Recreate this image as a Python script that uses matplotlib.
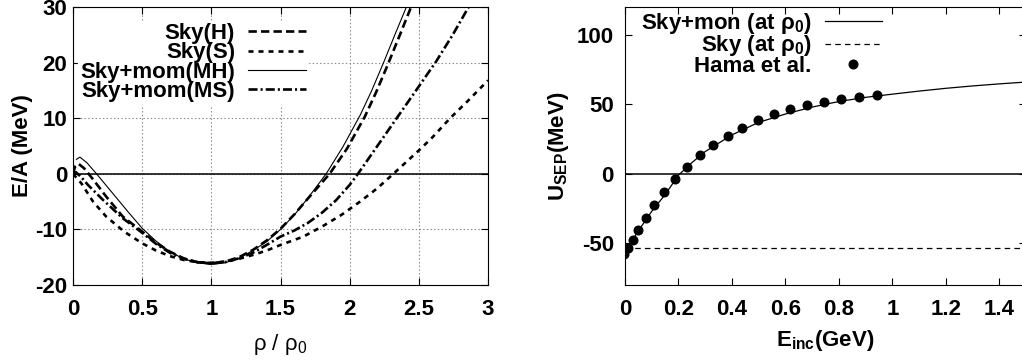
import numpy as np
import matplotlib
matplotlib.use('Agg')
import matplotlib.pyplot as plt
from matplotlib.ticker import MultipleLocator, FuncFormatter

plt.rcParams['font.family'] = ['Liberation Sans', 'DejaVu Sans']
plt.rcParams['mathtext.fontset'] = 'custom'
plt.rcParams['mathtext.rm'] = 'Liberation Sans:bold'
plt.rcParams['mathtext.bf'] = 'Liberation Sans:bold'
plt.rcParams['mathtext.it'] = 'Liberation Sans:bold'
plt.rcParams['mathtext.sf'] = 'Liberation Sans'
plt.rcParams['lines.scale_dashes'] = False

# --- left panel: E/A vs rho/rho0 ---
x_H = [0.0, 0.015, 0.04, 0.08, 0.145, 0.24, 0.36, 0.48, 0.6, 0.7, 0.8, 0.9, 1.0, 1.1, 1.2,
       1.3, 1.4, 1.5, 1.6, 1.7, 1.855, 1.98, 2.11, 2.19, 2.27, 2.36, 2.444]
y_H = [0.0, 1.3, 1.8, 1.0, -1.0, -4.1, -7.7, -10.0, -12.4, -14.0, -15.2, -15.9, -16.1, -15.8, -15.0,
       -13.7, -12.0, -9.9, -7.3, -4.4, 0.0, 4.5, 10.3, 14.6, 19.3, 24.8, 30.0]

x_S = [0.0, 0.06, 0.145, 0.24, 0.37, 0.5, 0.6, 0.7, 0.8, 0.9, 1.0, 1.1, 1.2, 1.3, 1.4,
       1.5, 1.665, 1.8, 1.94, 2.075, 2.2, 2.316, 2.5, 2.6, 2.726, 2.85, 3.0]
y_S = [0.0, -1.7, -5.0, -7.7, -10.4, -12.5, -13.8, -14.8, -15.5, -15.9, -16.0, -15.8, -15.3, -14.6, -13.8,
       -12.8, -11.3, -9.5, -7.4, -5.0, -2.6, 0.0, 4.2, 6.6, 10.0, 13.0, 16.8]

x_MH = [0.025, 0.05, 0.1, 0.17, 0.25, 0.31, 0.4, 0.5, 0.6, 0.7, 0.8, 0.9, 1.0, 1.1, 1.2,
        1.3, 1.4, 1.5, 1.6, 1.7, 1.83, 1.95, 2.075, 2.16, 2.245, 2.33, 2.41]
y_MH = [2.6, 3.0, 2.0, 0.0, -2.4, -4.2, -6.9, -9.8, -12.1, -14.0, -15.3, -16.0, -16.3, -16.0, -15.2,
        -13.8, -12.2, -10.0, -7.4, -4.3, 0.0, 4.8, 10.5, 15.0, 20.0, 25.2, 30.0]

x_MS = [0.0, 0.02, 0.06, 0.108, 0.217, 0.36, 0.5, 0.6, 0.7, 0.8, 0.9, 1.0, 1.1, 1.2, 1.3,
        1.4, 1.5, 1.6, 1.7, 1.8, 1.9, 2.0, 2.06, 2.2, 2.34, 2.48, 2.625, 2.745, 2.86]
y_MS = [0.0, 0.3, -0.6, -2.0, -4.7, -8.0, -10.6, -12.6, -14.2, -15.3, -15.9, -16.1, -15.9, -15.2, -14.2,
        -12.8, -11.3, -10.2, -8.8, -7.0, -4.8, -2.0, 0.0, 5.0, 10.0, 15.0, 20.2, 25.0, 30.0]

# --- right panel: U_SEP vs E_inc ---
E_mon = [0.0, 0.02, 0.05, 0.1, 0.15, 0.2, 0.25, 0.3, 0.4, 0.5, 0.6, 0.7, 0.8, 0.9, 1.0,
         1.1, 1.2, 1.3, 1.4, 1.5]
U_mon = [-57.0, -50.0, -41.0, -27.0, -15.0, -1.0, 8.0, 16.0, 28.0, 37.0, 43.0, 48.0, 52.0, 55.0, 57.3,
         59.5, 61.5, 63.2, 64.7, 66.0]
E_sky = [0.0, 1.5]
U_sky = [-53.2, -53.2]

E_hama = [-0.002, 0.01, 0.029, 0.050, 0.079, 0.110, 0.145, 0.186, 0.231, 0.279, 0.329,
          0.384, 0.438, 0.497, 0.557, 0.618, 0.680, 0.744, 0.809, 0.875, 0.943]
U_hama = [-58.0, -53.1, -47.4, -40.1, -31.7, -22.6, -13.2, -3.8, 5.0, 13.2, 20.7,
          27.4, 33.2, 38.5, 42.8, 46.4, 49.5, 51.9, 53.8, 55.5, 56.7]

fmt = FuncFormatter(lambda v, p: '%g' % v)
FS = 16

W, H = 1022, 362
fig = plt.figure(figsize=(W / 100, H / 100), dpi=100)
ax1 = fig.add_axes([73 / W, 1 - 285 / H, (488 - 73) / W, (285 - 7) / H])
ax2 = fig.add_axes([625 / W, 1 - 285 / H, (1026 - 625) / W, (285 - 7) / H])

for ax in (ax1, ax2):
    ax.tick_params(direction='in', top=True, right=True, length=5, width=0.8,
                   labelsize=FS)
    ax.xaxis.set_major_formatter(fmt)
    ax.yaxis.set_major_formatter(fmt)
    ax.axhline(0, color='black', lw=1.1, zorder=1)

# left
ax1.plot(x_H, y_H, color='black', lw=1.9, dashes=(6, 3), label='Sky(H)')
ax1.plot(x_S, y_S, color='black', lw=1.9, dashes=(3.6, 3.6), label='Sky(S)')
ax1.plot(x_MH, y_MH, color='black', lw=0.8, label='Sky+mom(MH)')
ax1.plot(x_MS, y_MS, color='black', lw=1.9, dashes=(6.5, 2.2, 1.5, 2.2), label='Sky+mom(MS)')
ax1.set_xlim(0, 3)
ax1.set_ylim(-20, 30)
ax1.xaxis.set_major_locator(MultipleLocator(0.5))
ax1.yaxis.set_major_locator(MultipleLocator(10))
ax1.grid(True, color='#888888', ls=':', lw=0.8)
ax1.set_axisbelow(True)
ax1.tick_params(axis='x', pad=10)
ax1.tick_params(axis='y', pad=4)
ax1.set_xlabel('ρ / ρ$_{\\mathsf{0}}$', fontsize=FS, labelpad=9)
ax1.set_ylabel('E/A (MeV)', fontsize=FS, fontweight='bold', labelpad=2)

leg1 = ax1.legend(loc='upper right', bbox_to_anchor=(0.594, 0.99), markerfirst=False,
                  handlelength=2.6, handletextpad=0.6, labelspacing=-0.08,
                  borderpad=0.1, fancybox=False, framealpha=1, facecolor='white',
                  edgecolor='white', prop={'weight': 'bold', 'size': FS})

# right
ax2.plot(E_mon, U_mon, color='black', lw=0.9, label='Sky+mon (at ρ$_0$)')
ax2.plot(E_sky, U_sky, color='black', lw=0.9, dashes=(4, 3), label='Sky (at ρ$_0$)')
ax2.plot(E_hama, U_hama, 'o', color='black', ms=6.2, label='Hama et al.')
ax2.set_xlim(0, 1.5)
ax2.set_ylim(-80, 120)
ax2.xaxis.set_major_locator(MultipleLocator(0.2))
ax2.yaxis.set_major_locator(MultipleLocator(50))
ax2.tick_params(axis='x', pad=10)
ax2.tick_params(axis='y', pad=8)
ax2.set_xlabel('E$_{inc}$(GeV)', fontsize=FS, fontweight='bold', labelpad=6)
ax2.set_ylabel('U$_{SEP}$(MeV)', fontsize=FS, fontweight='bold', labelpad=4)

leg2 = ax2.legend(loc='upper right', bbox_to_anchor=(0.675, 1.035), markerfirst=False,
                  handlelength=2.6, handletextpad=0.6, labelspacing=-0.1,
                  borderpad=0.1, frameon=False, prop={'weight': 'bold', 'size': FS})

for ax in (ax1, ax2):
    for lab in ax.get_xticklabels() + ax.get_yticklabels():
        lab.set_fontweight('bold')

# right-align legend rows (gnuplot style)
for leg in (leg1, leg2):
    for col in leg._legend_handle_box.get_children():
        col.align = 'right'

fig.savefig('out.png', dpi=100)
